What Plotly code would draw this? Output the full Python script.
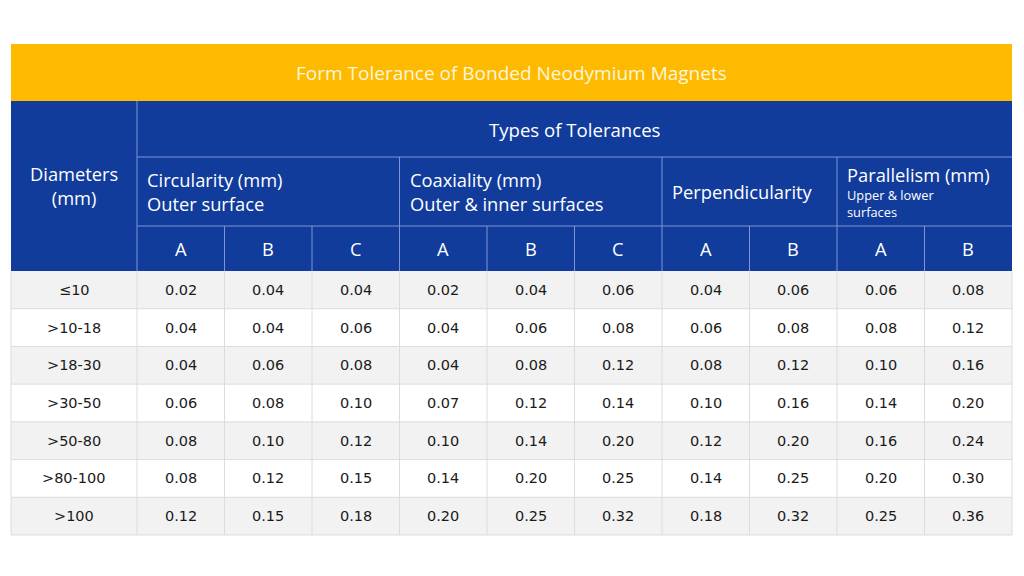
import plotly.graph_objects as go

# ---------------- data ----------------
title = "Form Tolerance of Bonded Neodymium Magnets"
row_header = "Diameters<br>(mm)"
super_header = "Types of Tolerances"
diameters = ["≤10", ">10-18", ">18-30", ">30-50", ">50-80", ">80-100", ">100"]
groups = ["Circularity (mm)<br>Outer surface",
          "Coaxiality (mm)<br>Outer & inner surfaces",
          "Perpendicularity",
          "Parallelism (mm)"]
group_sub = ["", "", "", "Upper & lower<br>surfaces"]
group_grades = [["A", "B", "C"], ["A", "B", "C"], ["A", "B"], ["A", "B"]]

circularity_A = [0.02, 0.04, 0.04, 0.06, 0.08, 0.08, 0.12]
circularity_B = [0.04, 0.04, 0.06, 0.08, 0.10, 0.12, 0.15]
circularity_C = [0.04, 0.06, 0.08, 0.10, 0.12, 0.15, 0.18]
coaxiality_A = [0.02, 0.04, 0.04, 0.07, 0.10, 0.14, 0.20]
coaxiality_B = [0.04, 0.06, 0.08, 0.12, 0.14, 0.20, 0.25]
coaxiality_C = [0.06, 0.08, 0.12, 0.14, 0.20, 0.25, 0.32]
perpendicularity_A = [0.04, 0.06, 0.08, 0.10, 0.12, 0.14, 0.18]
perpendicularity_B = [0.06, 0.08, 0.12, 0.16, 0.20, 0.25, 0.32]
parallelism_A = [0.06, 0.08, 0.10, 0.14, 0.16, 0.20, 0.25]
parallelism_B = [0.08, 0.12, 0.16, 0.20, 0.24, 0.30, 0.36]

columns = [circularity_A, circularity_B, circularity_C,
           coaxiality_A, coaxiality_B, coaxiality_C,
           perpendicularity_A, perpendicularity_B,
           parallelism_A, parallelism_B]

# ---------------- layout constants ----------------
ORANGE = "#FDBA00"
BLUE = "#113C9C"
HDR_LINE = "#7D95D3"
GRID = "#DCDCDC"
ODD = "#F2F2F2"
HFONT = "Open Sans"
BFONT = "DejaVu Sans"
HSIZE = 18.3
BSIZE = 14.5

PAGE_OFF = 8                 # default body margin of the html page
X0, X1 = 11, 1012
XD = 137                     # start of data columns
Y_TITLE0, Y_TITLE1 = 44, 101
Y_H1, Y_H2, Y_H3 = 157, 226, 271
ROW_H = (535 - 271) / len(diameters)
ncol = len(columns)
CW = (X1 - XD) / ncol

def cx(i):
    return XD + i * CW

shapes = []
ann = []

def rect(x0, y0, x1, y1, fill):
    shapes.append(dict(type="rect", xref="x", yref="y", x0=x0, y0=y0, x1=x1, y1=y1,
                       fillcolor=fill, line=dict(color=fill, width=0), layer="below"))

def line(x0, y0, x1, y1, color, w=1):
    shapes.append(dict(type="line", xref="x", yref="y", x0=x0, y0=y0, x1=x1, y1=y1,
                       line=dict(color=color, width=w), layer="above"))

def text(x, y, s, size, color, font, xanchor="center"):
    ann.append(dict(x=x, y=y, xref="x", yref="y", text=s, showarrow=False,
                    xanchor=xanchor, yanchor="middle",
                    align="left" if xanchor == "left" else "center",
                    font=dict(size=size, color=color, family=font)))

# title bar
rect(X0, Y_TITLE0, X1, Y_TITLE1, ORANGE)
text((X0 + X1) / 2, (Y_TITLE0 + Y_TITLE1) / 2, title, 19, "#FFF6DA", HFONT)

# header block
rect(X0, Y_TITLE1, X1, Y_H3, BLUE)
line(XD, Y_TITLE1, XD, Y_H3, HDR_LINE)
line(XD, Y_H1, X1, Y_H1, HDR_LINE)
line(XD, Y_H2, X1, Y_H2, HDR_LINE)
text((X0 + XD) / 2, (Y_TITLE1 + Y_H3) / 2 - 1, row_header, HSIZE, "white", HFONT)
text((XD + X1) / 2, (Y_TITLE1 + Y_H1) / 2, super_header, 18.6, "white", HFONT)

ci = 0
for g, (name, sub, grades) in enumerate(zip(groups, group_sub, group_grades)):
    gx0 = cx(ci)
    if g > 0:
        line(gx0, Y_H1, gx0, Y_H3, HDR_LINE)
    if sub:
        text(gx0 + 8, 174, name, HSIZE, "white", HFONT, "left")
        text(gx0 + 8, 203, sub, 12.8, "white", HFONT, "left")
    else:
        text(gx0 + 8, (Y_H1 + Y_H2) / 2, name, HSIZE, "white", HFONT, "left")
    for k, gr in enumerate(grades):
        if k > 0:
            line(cx(ci + k), Y_H2, cx(ci + k), Y_H3, HDR_LINE)
        text(cx(ci + k) + CW / 2, (Y_H2 + Y_H3) / 2, gr, HSIZE, "white", HFONT)
    ci += len(grades)

# body
for r, d in enumerate(diameters):
    y0 = Y_H3 + r * ROW_H
    y1 = y0 + ROW_H
    rect(X0, y0, X1, y1, ODD if r % 2 == 0 else "white")
    line(X0, y1, X1, y1, GRID)
    ym = (y0 + y1) / 2
    text((X0 + XD) / 2, ym, d, BSIZE, "#1A1A1A", BFONT)
    for c, col in enumerate(columns):
        text(cx(c) + CW / 2, ym, f"{col[r]:.2f}", BSIZE, "#1A1A1A", BFONT)

BODY_END = Y_H3 + len(diameters) * ROW_H
for c in range(ncol + 1):
    line(cx(c), Y_H3, cx(c), BODY_END, GRID)
line(X0, Y_H3, X0, BODY_END, GRID)

W, H = 1024, 576
fig = go.Figure()
fig.add_trace(go.Scatter(x=[PAGE_OFF, W], y=[PAGE_OFF, H], mode="markers",
                         marker=dict(opacity=0), hoverinfo="skip", showlegend=False))
fig.update_layout(
    width=W - PAGE_OFF, height=H - PAGE_OFF,
    margin=dict(l=0, r=0, t=0, b=0),
    paper_bgcolor="white", plot_bgcolor="white",
    xaxis=dict(range=[PAGE_OFF, W], visible=False, fixedrange=True),
    yaxis=dict(range=[H, PAGE_OFF], visible=False, fixedrange=True),
    shapes=shapes, annotations=ann, showlegend=False,
)
fig.write_html("out.html", config={"displayModeBar": False})
